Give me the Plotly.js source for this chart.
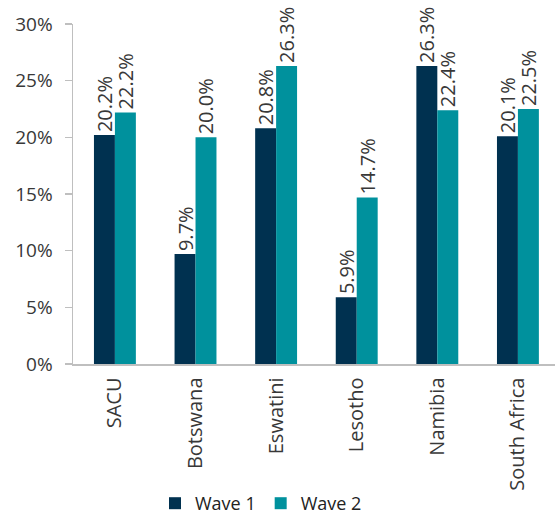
<!DOCTYPE html>
<html>
<head>
<meta charset="utf-8">
<script src="https://cdn.plot.ly/plotly-3.0.1.min.js"></script>
<style>html,body{margin:0;padding:0;background:#fff;}#chart{width:555px;height:522px;}</style>
</head>
<body>
<div id="chart"></div>
<script>
const categories = ["SACU", "Botswana", "Eswatini", "Lesotho", "Namibia", "South Africa"];
const wave1 = [20.2, 9.7, 20.8, 5.9, 26.3, 20.1];
const wave2 = [22.2, 20.0, 26.3, 14.7, 22.4, 22.5];
const seriesNames = ["Wave 1", "Wave 2"];
const yTickVals = [0, 5, 10, 15, 20, 25, 30];
const yTickText = ["0%", "5%", "10%", "15%", "20%", "25%", "30%"];

const fontFam = "'Open Sans', sans-serif";
function mk(name, vals, color) {
  return {
    type: "bar", name: name, x: categories, y: vals,
    marker: {color: color},
    text: vals.map(v => v.toFixed(1) + "%"),
    textposition: "outside", textangle: -90,
    constraintext: "none", cliponaxis: false,
    textfont: {family: fontFam, size: 20, color: "#383838"},
    hoverinfo: "none"
  };
}
const data = [mk(seriesNames[0], wave1, "#003150"), mk(seriesNames[1], wave2, "#00919d")];
const layout = {
  width: 555, height: 522,
  margin: {l: 73, r: 0, t: 24, b: 157},
  paper_bgcolor: "#fff", plot_bgcolor: "#fff",
  barmode: "group", bargap: 0.48, bargroupgap: 0,
  font: {family: fontFam, color: "#383838"},
  uniformtext: {mode: false},
  xaxis: {
    type: "category", range: [-0.52, 5.46],
    showline: true, linecolor: "#bfbfbf", linewidth: 1.5,
    ticks: "", tickangle: -90, tickfont: {size: 20, color: "#383838"},
    ticklabelstandoff: 4,
    showgrid: false, zeroline: false, fixedrange: true
  },
  yaxis: {
    range: [0, 30], tickvals: yTickVals, ticktext: yTickText,
    showline: true, linecolor: "#bfbfbf", linewidth: 1.5,
    ticks: "outside", ticklen: 7, tickcolor: "#bfbfbf", tickwidth: 1.5,
    tickfont: {size: 19, color: "#383838"}, ticklabelstandoff: 8,
    showgrid: false, zeroline: false, fixedrange: true
  },
  showlegend: true,
  legend: {
    orientation: "h", x: 0.39, xanchor: "center", y: -0.41, yanchor: "middle",
    font: {size: 18, color: "#222"}, itemwidth: 30
  }
};
Plotly.newPlot("chart", data, layout, {displayModeBar: false, staticPlot: true});
</script>
</body>
</html>
